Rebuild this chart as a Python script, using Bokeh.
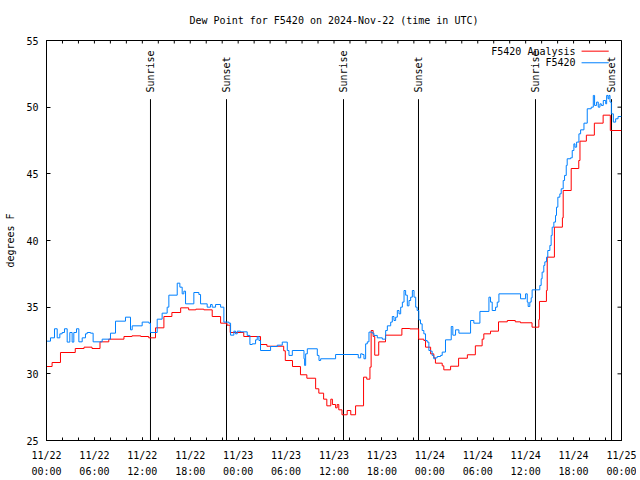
import math
from bokeh.plotting import figure
from bokeh.models import Range1d, FixedTicker, LinearAxis
from bokeh.embed import file_html
from bokeh.resources import INLINE
from bokeh.core.properties import value

FONT = "DejaVu Sans Mono"

# ---- data (hours since 2024-11-22 00:00 UTC) ----
analysis_hours = [0.0, 0.7, 1.75, 3.6, 4.7, 5.7, 6.7, 7.8, 9.7, 10.7, 11.8, 12.8, 13.65, 14.7,
                  15.7, 16.8, 17.8, 18.7, 19.7, 20.75, 21.8, 22.6, 23.0, 24.7, 26.8, 27.6,
                  29.7, 29.9, 30.8, 31.8, 32.6, 33.7, 34.1, 34.7, 35.1, 35.6, 35.8, 36.2,
                  36.4, 36.6, 37.0, 37.65, 38.1, 38.7, 39.7, 40.1, 40.5, 40.65, 40.9, 41.1,
                  41.6, 42.45, 44.5, 45.5, 46.6, 47.25, 47.46, 48.1, 48.5, 48.7, 49.55,
                  49.75, 50.6, 51.6, 52.7, 53.7, 54.55, 54.76, 55.6, 56.6, 57.7, 58.7,
                  59.35, 60.8, 61.65, 61.73, 62.6, 62.7, 63.6, 64.6, 64.7, 65.7, 66.65,
                  66.8, 67.6, 68.6, 69.7, 70.6, 72.0]
analysis_vals = [30.55, 30.85, 31.6, 31.9, 32.0, 31.9, 32.4, 32.6, 32.8, 32.85, 32.8, 32.7, 33.45, 34.3,
                 34.6, 34.95, 34.8, 34.85, 34.8, 34.3, 33.8, 33.65, 33.1, 32.8, 32.2, 32.07,
                 31.73, 31.0, 30.55, 29.93, 29.67, 28.88, 28.55, 28.1, 27.6, 28.1, 27.7, 27.45,
                 27.7, 27.3, 26.93, 27.25, 26.93, 27.6, 29.75, 29.6, 30.5, 33.25, 32.8, 31.4,
                 32.4, 32.9, 33.4, 33.37, 32.6, 32.5, 32.0, 31.5, 31.2, 30.8, 30.6,
                 30.3, 30.57, 31.17, 31.43, 32.1, 32.6, 33.0, 33.2, 33.9, 34.0, 33.9,
                 33.83, 33.5, 34.07, 35.43, 36.25, 38.75, 41.0, 41.7, 43.75, 45.4, 46.0,
                 47.45, 47.9, 48.8, 49.4, 48.25, 48.25]

obs_hours = [0.0, 0.5, 1.0, 1.34, 1.67, 1.96, 2.25, 2.59, 2.92, 3.21, 3.42, 3.76, 4.05, 4.47,
             4.88, 5.09, 5.51, 5.84, 6.97, 8.01, 8.64, 9.89, 10.52, 10.73, 11.98, 12.82,
             13.02, 13.86, 14.48, 15.11, 15.32, 16.37, 16.7, 16.99, 17.2, 17.41, 18.45,
             19.08, 19.29, 20.12, 20.54, 20.75, 21.17, 21.8, 22.21, 22.84, 23.05, 23.46,
             23.67, 23.88, 24.29, 25.13, 25.47, 25.76, 26.18, 26.39, 26.6, 26.8, 28.06,
             28.89, 29.52, 30.15, 30.36, 30.78, 32.24, 32.32, 32.45, 32.66, 33.91, 34.12,
             34.33, 36.2, 39.04, 39.34, 39.55, 39.75, 39.96, 40.17, 40.38, 40.8, 41.0,
             41.42, 42.05, 42.47, 42.68, 43.1, 43.3, 43.51, 43.72, 43.93, 44.14, 44.35,
             44.56, 44.77, 44.97, 45.18, 45.39, 45.6, 45.81, 46.02, 46.23, 46.41, 46.62,
             46.83, 47.04, 47.25, 47.46, 47.67, 47.88, 48.09, 48.29, 48.5, 48.71, 48.92,
             49.34, 49.55, 49.96, 50.68, 50.88, 51.22, 51.64, 53.1, 53.51, 54.27, 55.4,
             55.6, 55.81, 56.23, 56.44, 56.65, 59.36, 59.99, 60.2, 60.31, 60.52, 60.69,
             60.81, 61.77, 61.94, 62.06, 62.27, 62.4, 62.61, 62.77, 63.03, 63.19, 63.32,
             63.53, 63.74, 63.86, 64.03, 64.28, 64.45, 64.7, 64.87, 65.08, 65.2, 65.62,
             65.83, 66.04, 66.17, 66.38, 66.67, 66.88, 67.3, 67.71, 68.21, 68.47, 68.63,
             68.88, 69.09, 69.3, 69.47, 69.72, 70.02, 70.14, 70.31, 70.43, 70.56, 70.73,
             70.98, 71.27, 71.57, 72.0]
obs_vals = [32.45, 32.7, 33.38, 32.7, 33.0, 33.1, 33.38, 32.38, 33.1, 32.38, 33.1, 33.38, 32.4, 32.7,
            33.0, 33.1, 33.05, 32.4, 32.6, 33.05, 33.95, 34.25, 33.3, 33.6, 33.88, 33.8,
            33.1, 34.1, 34.55, 35.0, 35.9, 36.8, 36.5, 36.0, 36.2, 35.25, 36.1,
            35.95, 35.25, 35.0, 35.2, 35.0, 35.2, 35.0, 33.88, 33.8, 32.9, 33.2,
            33.0, 33.2, 33.15, 32.88, 32.2, 32.25, 32.55, 32.8, 32.5, 31.75, 32.05,
            32.15, 32.38, 31.75, 31.38, 31.75, 31.13, 30.63, 31.5, 31.88, 31.38, 31.0,
            31.13, 31.45, 31.2, 31.5, 31.45, 31.13, 32.25, 32.4, 33.13, 33.05, 32.88,
            32.7, 32.6, 33.25, 33.6, 33.88, 34.3, 34.0, 34.25, 34.75, 34.5, 35.0,
            35.38, 36.25, 35.9, 35.1, 35.5, 35.75, 36.25, 35.75, 35.0, 34.75, 34.05,
            33.75, 33.25, 33.0, 32.5, 32.38, 31.75, 31.7, 31.38, 31.13, 31.2, 31.3,
            31.38, 31.63, 32.55, 33.55, 32.9, 33.3, 33.05, 34.0, 33.8, 34.68, 35.75,
            35.38, 34.75, 35.0, 35.38, 36.0, 35.63, 36.0, 35.38, 35.05, 35.38, 35.7,
            36.3, 36.63, 37.13, 37.63, 38.13, 38.4, 38.75, 39.25, 39.63, 40.38, 41.0,
            41.38, 41.88, 42.5, 43.25, 43.5, 43.88, 44.5, 44.88, 45.63, 46.13, 46.2,
            46.75, 47.25, 47.0, 47.38, 48.0, 48.3, 48.8, 49.88, 50.0, 50.88, 50.13,
            50.38, 50.0, 50.25, 50.13, 50.5, 50.25, 50.88, 50.63, 50.88, 50.38, 49.5,
            48.88, 49.13, 49.3, 49.3]

sun_hours = [13.02, 22.54, 37.19, 46.58, 61.23, 70.75]
sun_labels = ["Sunrise", "Sunset", "Sunrise", "Sunset", "Sunrise", "Sunset"]

x_ticks = [0, 6, 12, 18, 24, 30, 36, 42, 48, 54, 60, 66, 72]
x_tick_dates = ["11/22", "11/22", "11/22", "11/22", "11/23", "11/23", "11/23", "11/23",
                "11/24", "11/24", "11/24", "11/24", "11/25"]
x_tick_times = ["00:00", "06:00", "12:00", "18:00", "00:00", "06:00", "12:00", "18:00",
                "00:00", "06:00", "12:00", "18:00", "00:00"]
x_minor = list(range(0, 73, 2))
y_ticks = [25, 30, 35, 40, 45, 50, 55]

title_text = "Dew Point for F5420 on 2024-Nov-22 (time in UTC)"
series_names = ["F5420 Analysis", "F5420"]
series_colors = ["#ff0000", "#0080ff"]

# ---- figure ----
p = figure(width=636, height=479, x_range=Range1d(0, 72), y_range=Range1d(25, 55),
           title=title_text, output_backend="svg", toolbar_location=None,
           min_border_left=46, min_border_right=15, min_border_top=40, min_border_bottom=39)
p.background_fill_color = "white"
p.border_fill_color = "white"
p.outline_line_color = "black"
p.outline_line_width = 1
p.xgrid.visible = False
p.ygrid.visible = False

p.title.align = "center"
p.title.vertical_align = "top"
p.title.text_font = FONT
p.title.text_font_size = "10px"
p.title.text_font_style = "normal"
p.title.text_color = "black"
p.title.standoff = 26

def style_ticks(ax):
    ax.axis_line_color = "black"
    ax.major_tick_line_color = "black"
    ax.minor_tick_line_color = "black"
    ax.major_tick_in = 3
    ax.major_tick_out = 0
    ax.minor_tick_in = 3
    ax.minor_tick_out = 0
    ax.major_label_text_font = FONT
    ax.major_label_text_font_size = "10px"
    ax.major_label_text_color = "black"

xa = p.xaxis[0]
xa.ticker = FixedTicker(ticks=x_ticks, minor_ticks=x_minor)
xa.major_label_overrides = {t: d for t, d in zip(x_ticks, x_tick_dates)}
style_ticks(xa)
xa.major_label_standoff = 9

xa2 = LinearAxis(ticker=FixedTicker(ticks=x_ticks),
                 major_label_overrides={t: s for t, s in zip(x_ticks, x_tick_times)})
style_ticks(xa2)
xa2.axis_line_color = None
xa2.major_tick_line_color = None
xa2.minor_tick_line_color = None
xa2.major_label_standoff = 2
p.add_layout(xa2, "below")

ya = p.yaxis[0]
ya.ticker = FixedTicker(ticks=y_ticks, minor_ticks=[])
style_ticks(ya)
ya.major_tick_in = 4
ya.major_label_standoff = 8
ya.axis_label = "degrees F"
ya.axis_label_text_font = FONT
ya.axis_label_text_font_size = "10px"
ya.axis_label_text_font_style = "normal"
ya.axis_label_text_color = "black"
ya.axis_label_standoff = 7

# mirrored ticks on the top and right edges (half of each dash is clipped by the frame)
p.scatter(x=x_minor, y=[y_ticks[-1]] * len(x_minor), marker="dash", size=6,
          angle=math.pi / 2, line_color="black", line_width=1)
p.scatter(x=[x_ticks[-1]] * len(y_ticks), y=y_ticks, marker="dash", size=8,
          line_color="black", line_width=1)

# ---- sunrise / sunset markers ----
p.segment(x0=sun_hours, y0=[25] * len(sun_hours), x1=sun_hours, y1=[50.6] * len(sun_hours),
          line_color="black", line_width=1)
p.text(x=sun_hours, y=[51.1] * len(sun_hours), text=sun_labels, angle=math.pi / 2,
       text_align="left", text_baseline="middle", text_font=value(FONT),
       text_font_size="10px", text_color="black")

# ---- series ----
p.step(analysis_hours, analysis_vals, mode="after", line_color=series_colors[0], line_width=1)
p.step(obs_hours, obs_vals, mode="after", line_color=series_colors[1], line_width=1)

# ---- key (text right-aligned, sample line to the right) ----
key_y = [54.2, 53.33]
p.text(x=[66.25, 66.25], y=key_y, text=series_names, text_align="right",
       text_baseline="middle", text_font=value(FONT), text_font_size="10px", text_color="black")
p.segment(x0=[67.0, 67.0], y0=key_y, x1=[70.4, 70.4], y1=key_y,
          line_color=series_colors, line_width=1)

open("out.html", "w").write(file_html(p, INLINE))
